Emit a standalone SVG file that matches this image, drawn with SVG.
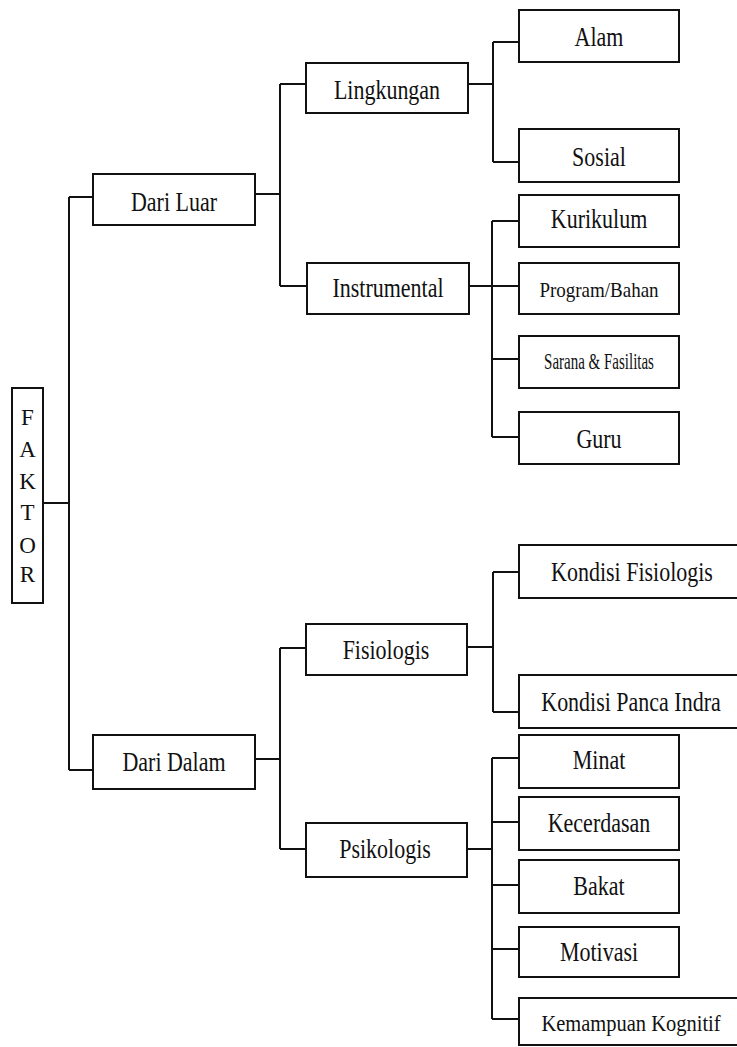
<svg xmlns="http://www.w3.org/2000/svg" width="737" height="1047" viewBox="0 0 737 1047">
<style>
.box{fill:#fff;stroke:#111;stroke-width:2}
.t{font-family:"Liberation Serif","Times New Roman",serif;font-size:22px;fill:#111;text-anchor:middle}
.s{font-size:19px}
.xs{font-size:15px}
.m{font-size:20.5px}
.v{font-family:"Liberation Serif","Times New Roman",serif;font-size:23px;fill:#111;text-anchor:middle}
.c{fill:none;stroke:#111;stroke-width:2}
</style>
<rect width="737" height="1047" fill="#fff"/>
<g id="connectors">
<path class="c" d="M43,503H69M69,197V770M69,197H93M69,770H93"/>
<path class="c" d="M255,194H280M280,84V286M280,84H306M280,286H307"/>
<path class="c" d="M468,84H493M493,42V162M493,42H519M493,162H519"/>
<path class="c" d="M469,286H519M492,221V437M492,221H519M492,359H519M492,437H519"/>
<path class="c" d="M255,759H280M280,648V849M280,648H306M280,849H306"/>
<path class="c" d="M467,647H493M493,572V712M493,572H519M493,712H519"/>
<path class="c" d="M467,849H492M492,758V1019M492,758H519M492,822H519M492,885H519M492,949H519M492,1019H519"/>
</g>
<g id="faktor">
<rect class="box" x="12" y="388" width="31" height="215"/>
<text class="v" x="27.5" y="425">F</text>
<text class="v" x="27.5" y="457">A</text>
<text class="v" x="27.5" y="489">K</text>
<text class="v" x="27.5" y="520">T</text>
<text class="v" x="27.5" y="553">O</text>
<text class="v" x="27.5" y="582">R</text>
</g>
<g id="dari-luar">
<rect class="box" x="93" y="174" width="162" height="51"/>
<text class="t" transform="translate(174,211) scale(1,1.2)">Dari Luar</text>
</g>
<g id="dari-dalam">
<rect class="box" x="93" y="735" width="162" height="54"/>
<text class="t" transform="translate(174,771) scale(1,1.2)">Dari Dalam</text>
</g>
<g id="lingkungan">
<rect class="box" x="306" y="63" width="162" height="50"/>
<text class="t" transform="translate(387,99) scale(1,1.2)">Lingkungan</text>
</g>
<g id="instrumental">
<rect class="box" x="307" y="263" width="162" height="51"/>
<text class="t" transform="translate(388,297) scale(1,1.2)">Instrumental</text>
</g>
<g id="fisiologis">
<rect class="box" x="306" y="624" width="161" height="51"/>
<text class="t" transform="translate(386,659) scale(1,1.2)">Fisiologis</text>
</g>
<g id="psikologis">
<rect class="box" x="306" y="823" width="161" height="54"/>
<text class="t" transform="translate(385,858) scale(1,1.2)">Psikologis</text>
</g>
<g id="alam">
<rect class="box" x="519" y="10" width="160" height="52"/>
<text class="t" transform="translate(599,46) scale(1,1.2)">Alam</text>
</g>
<g id="sosial">
<rect class="box" x="519" y="129" width="160" height="53"/>
<text class="t" transform="translate(599,166) scale(1,1.2)">Sosial</text>
</g>
<g id="kurikulum">
<rect class="box" x="519" y="195" width="160" height="52"/>
<text class="t" transform="translate(599,228) scale(1,1.2)">Kurikulum</text>
</g>
<g id="program-bahan">
<rect class="box" x="519" y="263" width="160" height="51"/>
<text class="t s" transform="translate(599,297) scale(1,1.05)">Program/Bahan</text>
</g>
<g id="sarana">
<rect class="box" x="519" y="336" width="160" height="52"/>
<text class="t xs" transform="translate(599,369) scale(1,1.5)">Sarana &amp; Fasilitas</text>
</g>
<g id="guru">
<rect class="box" x="519" y="412" width="160" height="52"/>
<text class="t" transform="translate(599,448) scale(1,1.2)">Guru</text>
</g>
<g id="kondisi-fisiologis">
<rect class="box" x="519" y="545" width="230" height="53"/>
<text class="t" transform="translate(632,581) scale(1,1.2)">Kondisi Fisiologis</text>
</g>
<g id="kondisi-panca-indra">
<rect class="box" x="519" y="675" width="230" height="53"/>
<text class="t" transform="translate(631,711) scale(1,1.2)">Kondisi Panca Indra</text>
</g>
<g id="minat">
<rect class="box" x="519" y="735" width="160" height="53"/>
<text class="t" transform="translate(599,769) scale(1,1.2)">Minat</text>
</g>
<g id="kecerdasan">
<rect class="box" x="519" y="797" width="160" height="53"/>
<text class="t" transform="translate(599,832) scale(1,1.2)">Kecerdasan</text>
</g>
<g id="bakat">
<rect class="box" x="519" y="860" width="160" height="53"/>
<text class="t" transform="translate(599,895) scale(1,1.2)">Bakat</text>
</g>
<g id="motivasi">
<rect class="box" x="519" y="927" width="160" height="50"/>
<text class="t" transform="translate(599,961) scale(1,1.2)">Motivasi</text>
</g>
<g id="kemampuan-kognitif">
<rect class="box" x="519" y="998" width="230" height="47"/>
<text class="t m" transform="translate(631,1031) scale(1,1.15)">Kemampuan Kognitif</text>
</g>
</svg>
